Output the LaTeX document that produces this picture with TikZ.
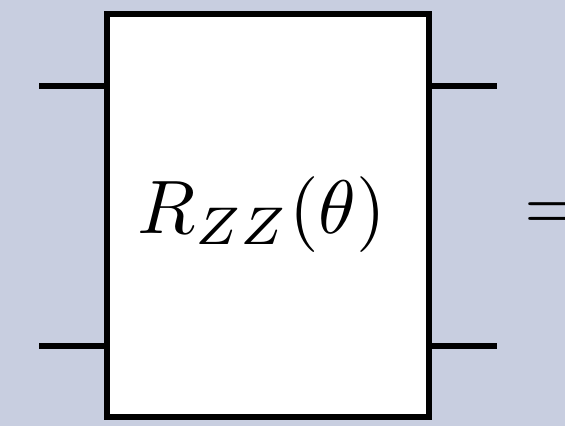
\documentclass[tikz,border=0pt]{standalone}
\definecolor{bg}{RGB}{200,206,224}
\begin{document}
\begin{tikzpicture}[x=1pt,y=-1pt,
  wire/.style={line width=6pt,black},
  gate/.style={line width=6pt,draw=black,fill=white}]
\fill[bg] (0,0) rectangle (565,426);
\useasboundingbox (0,0) rectangle (565,426);
\coordinate (l1) at (39,85.5);
\coordinate (l2) at (39,346);
\coordinate (r1) at (497,85.5);
\coordinate (r2) at (497,346);
\draw[wire] (l1) -- (107,85.5);
\draw[wire] (l2) -- (107,346);
\draw[wire] (429,85.5) -- (r1);
\draw[wire] (429,346) -- (r2);
\node[gate,minimum width=322pt,minimum height=403pt,inner sep=0pt] (g) at (268,215.5) {};
\node[inner sep=0pt,scale=7.58] (lab) at (262,214.5) {$R_{ZZ}(\theta)$};
\node[inner sep=0pt,scale=7.58,anchor=west] (eq) at (523,217) {$=$};
\end{tikzpicture}
\end{document}
